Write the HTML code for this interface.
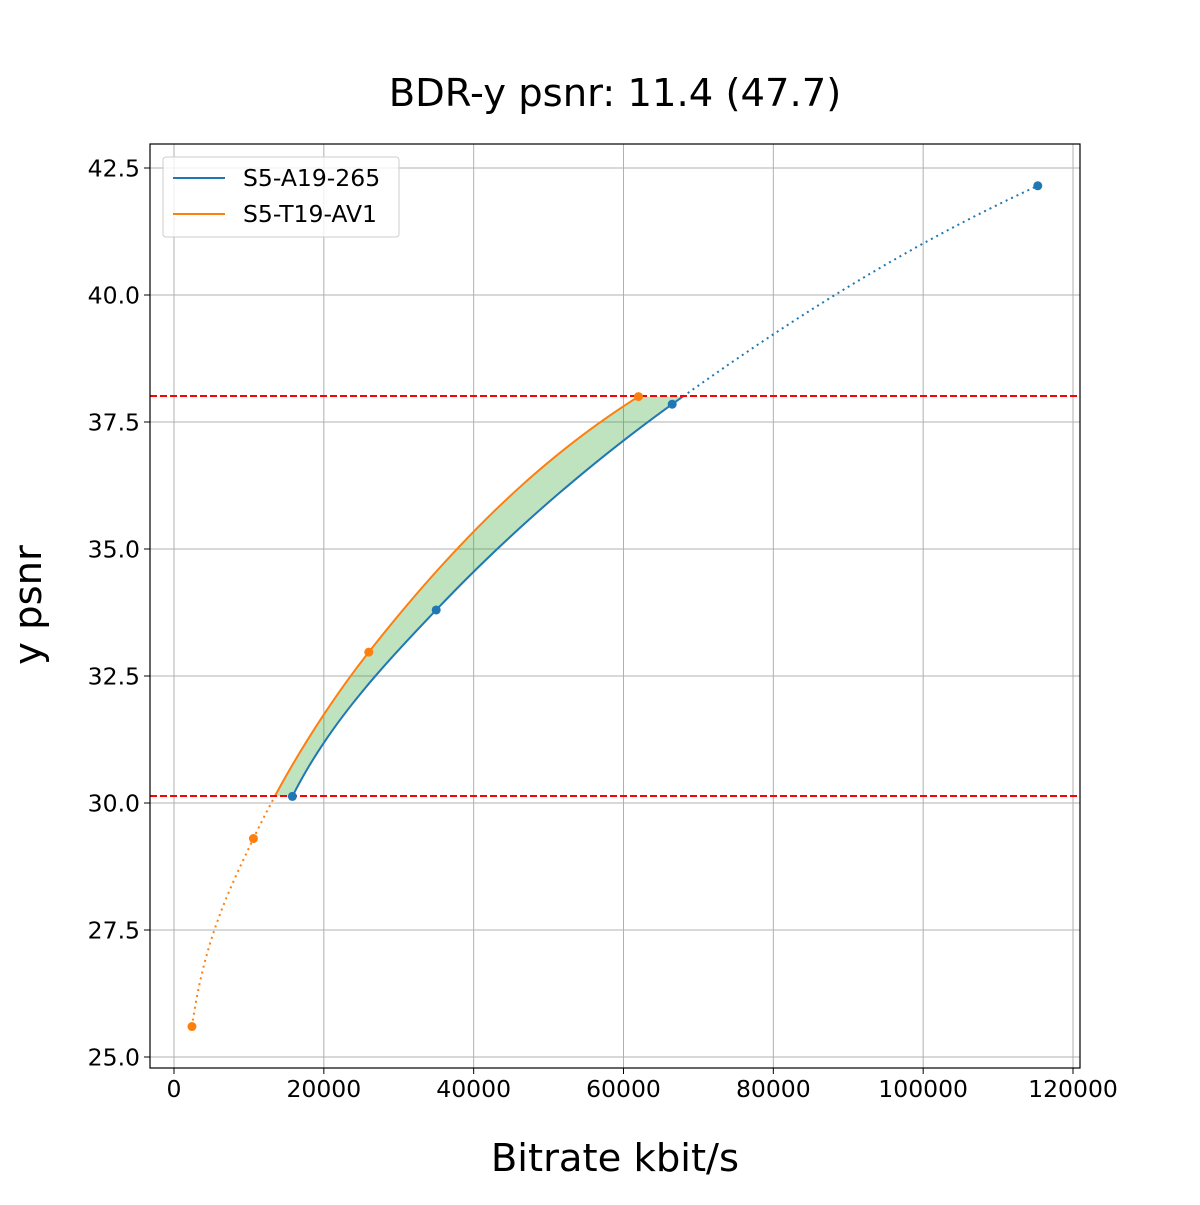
<!DOCTYPE html>
<html><head><meta charset="utf-8"><style>
body{margin:0;background:#fff}
svg{font-family:"DejaVu Sans","Liberation Sans",sans-serif}
</style></head><body>
<svg id="s" width="1200" height="1200" xmlns="http://www.w3.org/2000/svg">
<rect width="1200" height="1200" fill="#fff"/>
<text x="615" y="106" font-size="38.5" text-anchor="middle">BDR-y psnr: 11.4 (47.7)</text>
<g id="grid" stroke="#b0b0b0" stroke-width="1"></g>
<g id="fill"></g>
<g id="lines"></g>
<line x1="150" y1="396" x2="1080" y2="396" stroke="#ff0000" stroke-width="2" stroke-dasharray="7,3"/>
<line x1="150" y1="796" x2="1080" y2="796" stroke="#ff0000" stroke-width="2" stroke-dasharray="7,3"/>
<g id="pts"></g>
<rect x="150" y="144" width="930" height="924" fill="none" stroke="#000" stroke-width="1.2"/>
<g id="ticks" font-size="23.5"></g>
<text x="615" y="1171" font-size="38.5" text-anchor="middle">Bitrate kbit/s</text>
<text transform="translate(41,605) rotate(-90)" font-size="38.5" text-anchor="middle">y psnr</text>
<rect x="163" y="157" width="236" height="80" fill="#fff" fill-opacity="0.8" stroke="#ccc" rx="3"/>
<line x1="173" y1="178" x2="225" y2="178" stroke="#1f77b4" stroke-width="2"/>
<text x="243" y="186" font-size="23.5">S5-A19-265</text>
<line x1="173" y1="214" x2="225" y2="214" stroke="#ff7f0e" stroke-width="2"/>
<text x="243" y="222" font-size="23.5">S5-T19-AV1</text>
</svg>
<script>
const NS="http://www.w3.org/2000/svg";
const X=v=>174+v*899/120000, Y=v=>1057-(v-25)*889/17.5;
function el(p,t,a,txt){const e=document.createElementNS(NS,t);for(const k in a)e.setAttribute(k,a[k]);if(txt!=null)e.textContent=txt;document.getElementById(p).appendChild(e);}
for(let v=0;v<=120000;v+=20000){const x=X(v);el("grid","line",{x1:x,y1:144,x2:x,y2:1068});el("ticks","line",{x1:x,y1:1068,x2:x,y2:1074,stroke:"#000"});el("ticks","text",{x:x,y:1097,"text-anchor":"middle"},String(v));}
for(let v=25;v<=42.5;v+=2.5){const y=Y(v);el("grid","line",{x1:150,y1:y,x2:1080,y2:y});el("ticks","line",{x1:144,y1:y,x2:150,y2:y,stroke:"#000"});el("ticks","text",{x:140,y:y+8.5,"text-anchor":"end"},v.toFixed(1));}
function pchip(xs,ys){const n=xs.length,h=[],d=[],m=[];for(let i=0;i<n-1;i++){h[i]=xs[i+1]-xs[i];d[i]=(ys[i+1]-ys[i])/h[i];}
m[0]=d[0];m[n-1]=d[n-2];for(let i=1;i<n-1;i++){if(d[i-1]*d[i]<=0)m[i]=0;else{const w1=2*h[i]+h[i-1],w2=h[i]+2*h[i-1];m[i]=(w1+w2)/(w1/d[i-1]+w2/d[i]);}}
return x=>{let i=0;while(i<n-2&&x>xs[i+1])i++;const t=(x-xs[i])/h[i],t2=t*t,t3=t2*t;return (2*t3-3*t2+1)*ys[i]+(t3-2*t2+t)*h[i]*m[i]+(-2*t3+3*t2)*ys[i+1]+(t3-t2)*h[i]*m[i+1];};}
const B={p:[30.13,33.8,37.85,42.15],r:[15800,35000,66500,115300],c:"#1f77b4"};
const O={p:[25.6,29.3,32.97,38.0],r:[2400,10600,26000,62000],c:"#ff7f0e"};
[B,O].forEach(s=>s.f=pchip(s.p,s.r.map(Math.log)));
function seg(s,a,b){const pts=[];for(let i=0;i<=100;i++){const p=a+(b-a)*i/100;pts.push([X(Math.exp(s.f(p))),Y(p)]);}return pts;}
const lo=30.13,hi=38.0;
const fb=seg(B,lo,hi),fo=seg(O,lo,hi).reverse();
el("fill","polygon",{points:fb.concat(fo).map(p=>p.join(",")).join(" "),fill:"#2ca02c","fill-opacity":0.3});
function line(pts,c,dash){const a={points:pts.map(p=>p.join(",")).join(" "),fill:"none",stroke:c,"stroke-width":2};if(dash)a["stroke-dasharray"]="2,4";el("lines","polyline",a);}
line(seg(B,lo,hi),B.c);line(seg(B,hi,42.15),B.c,1);
line(seg(O,25.6,lo),O.c,1);line(seg(O,lo,hi),O.c);
[B,O].forEach(s=>s.p.forEach((p,i)=>el("pts","circle",{cx:X(s.r[i]),cy:Y(p),r:4.5,fill:s.c})));
</script>
</body></html>
